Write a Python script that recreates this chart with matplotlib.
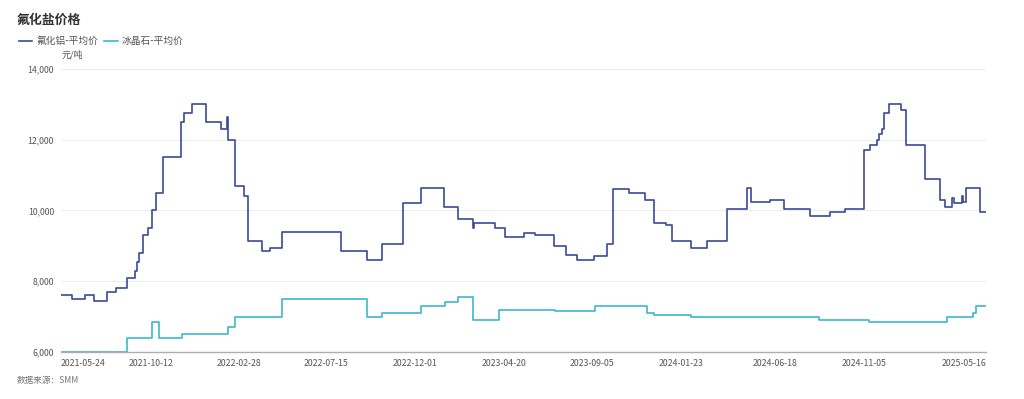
import matplotlib
matplotlib.use("Agg")
import matplotlib.pyplot as plt
import pandas as pd

plt.rcParams["font.family"] = ["Noto Sans CJK SC", "DejaVu Sans"]

# change points of the step series (date, yuan/ton)
alf3_dates = [
    "2021-05-24", "2021-06-11", "2021-06-30", "2021-07-15", "2021-08-05", "2021-08-19",
    "2021-09-05", "2021-09-17", "2021-09-21", "2021-09-23", "2021-09-30", "2021-10-08",
    "2021-10-14", "2021-10-21", "2021-11-01", "2021-11-29", "2021-12-03", "2021-12-16",
    "2022-01-07", "2022-01-31", "2022-02-08", "2022-02-10", "2022-02-21", "2022-03-08",
    "2022-03-14", "2022-04-05", "2022-04-17", "2022-05-06", "2022-08-07", "2022-09-16",
    "2022-10-10", "2022-11-12", "2022-12-10", "2023-01-16", "2023-02-07", "2023-03-02",
    "2023-03-03", "2023-04-05", "2023-04-22", "2023-05-22", "2023-06-08", "2023-07-08",
    "2023-07-27", "2023-08-12", "2023-09-09", "2023-09-29", "2023-10-08", "2023-11-03",
    "2023-11-27", "2023-12-11", "2023-12-31", "2024-01-08", "2024-02-07", "2024-03-04",
    "2024-04-04", "2024-05-05", "2024-05-12", "2024-06-10", "2024-07-03", "2024-08-12",
    "2024-09-13", "2024-10-07", "2024-11-05", "2024-11-15", "2024-11-25", "2024-11-29",
    "2024-12-03", "2024-12-07", "2024-12-14", "2025-01-03", "2025-01-11", "2025-02-09",
    "2025-03-04", "2025-03-12", "2025-03-24", "2025-03-26", "2025-04-08", "2025-04-10",
    "2025-04-14", "2025-05-06", "2025-05-16",
]
alf3_values = [
    7600, 7500, 7600, 7450, 7700, 7800,
    8100, 8300, 8550, 8800, 9300, 9500,
    10000, 10500, 11500, 12500, 12750, 13000,
    12500, 12300, 12650, 12000, 10700, 10400,
    9150, 8850, 8950, 9400, 8850, 8600,
    9050, 10200, 10650, 10100, 9750, 9500,
    9650, 9500, 9250, 9350, 9300, 9000,
    8750, 8600, 8700, 9050, 10600, 10500,
    10300, 9650, 9600, 9150, 8950, 9150,
    10050, 10650, 10250, 10300, 10050, 9850,
    9950, 10050, 11700, 11850, 12000, 12150,
    12300, 12750, 13000, 12850, 11850, 10900,
    10300, 10100, 10350, 10200, 10400, 10250,
    10650, 9950, 9950,
]

cryolite_dates = [
    "2021-05-24", "2021-09-05", "2021-10-14", "2021-10-25", "2021-11-30", "2022-02-10",
    "2022-02-21", "2022-05-06", "2022-09-16", "2022-10-10", "2022-12-10", "2023-01-17",
    "2023-02-07", "2023-03-02", "2023-04-12", "2023-07-09", "2023-09-10", "2023-11-30",
    "2023-12-11", "2024-02-08", "2024-08-27", "2024-11-14", "2025-03-15", "2025-04-25",
    "2025-05-01", "2025-05-16",
]
cryolite_values = [
    6000, 6400, 6850, 6400, 6500, 6700,
    7000, 7500, 7000, 7100, 7300, 7400,
    7550, 6900, 7200, 7150, 7300, 7100,
    7050, 7000, 6900, 6850, 7000, 7100,
    7300, 7300,
]

tick_dates = ["2021-05-24", "2021-10-12", "2022-02-28", "2022-07-15", "2022-12-01",
              "2023-04-20", "2023-09-05", "2024-01-23", "2024-06-18", "2024-11-05",
              "2025-05-16"]
y_ticks = [6000, 8000, 10000, 12000, 14000]

fig = plt.figure(figsize=(10.24, 3.99), dpi=100)
ax = fig.add_axes([61 / 1024, 1 - 352 / 399, 925 / 1024, 283 / 399])

ax.plot(pd.to_datetime(alf3_dates), alf3_values, drawstyle="steps-post",
        color="#3a4a98", lw=1.2, label="氟化铝-平均价")
ax.plot(pd.to_datetime(cryolite_dates), cryolite_values, drawstyle="steps-post",
        color="#3db8cc", lw=1.2, label="冰晶石-平均价")

ax.set_xlim(pd.Timestamp(tick_dates[0]), pd.Timestamp(tick_dates[-1]))
ax.set_ylim(6000, 14000)
ax.set_yticks(y_ticks)
ax.set_yticklabels([f"{v:,}" for v in y_ticks])
ax.set_xticks(pd.to_datetime(tick_dates))
ax.set_xticklabels(tick_dates)
labels = ax.get_xticklabels()
labels[0].set_ha("left")
labels[-1].set_ha("right")

ax.grid(axis="y", color="#eeeeee", lw=0.8)
ax.set_axisbelow(True)
for side in ["top", "right", "left"]:
    ax.spines[side].set_visible(False)
ax.spines["bottom"].set_color("#a9aeb5")
ax.spines["bottom"].set_linewidth(1.0)
ax.tick_params(axis="both", length=0, labelsize=6.3, colors="#555555")
ax.tick_params(axis="y", pad=5)
ax.tick_params(axis="x", pad=5)

fig.text(62 / 1024, 1 - 55 / 399, "元/吨", fontsize=6.5, color="#555555", va="center")

fig.text(17 / 1024, 1 - 20 / 399, "氟化盐价格", fontsize=9.3, fontweight="bold",
         color="#333333", va="center")
fig.legend(loc="center left", bbox_to_anchor=(10 / 1024, 1 - 41 / 399), ncol=2,
           frameon=False, fontsize=7, handlelength=1.4, handletextpad=0.4,
           columnspacing=0.6, labelcolor="#555555")
fig.text(17 / 1024, 1 - 381 / 399, "数据来源：SMM", fontsize=6.2, color="#777777",
         va="center")

fig.savefig("out.png", dpi=100)
